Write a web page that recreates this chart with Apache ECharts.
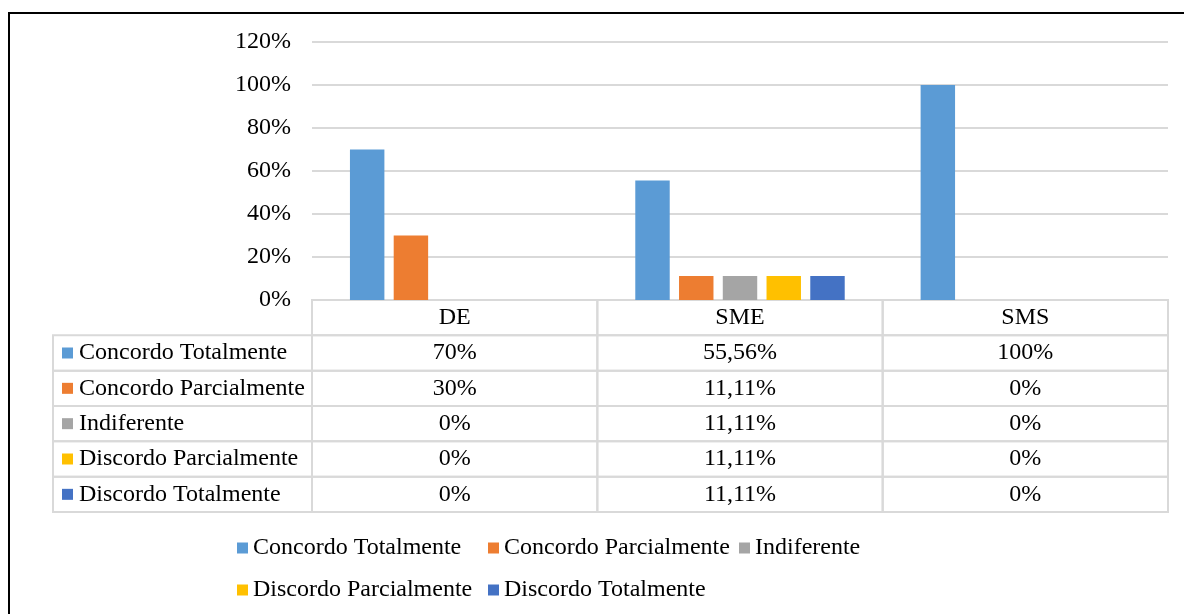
<!DOCTYPE html>
<html><head><meta charset="utf-8">
<script src="https://cdn.jsdelivr.net/npm/echarts@6/dist/echarts.min.js"></script>
<style>html,body{margin:0;padding:0;background:#fff}#c{width:1184px;height:614px}</style>
</head><body><div id="c"></div>
<script>
var categories = ['DE', 'SME', 'SMS'];
var seriesNames = ['Concordo Totalmente', 'Concordo Parcialmente', 'Indiferente', 'Discordo Parcialmente', 'Discordo Totalmente'];
var concordoTotalmente = [70, 55.56, 100];
var concordoParcialmente = [30, 11.11, 0];
var indiferente = [0, 11.11, 0];
var discordoParcialmente = [0, 11.11, 0];
var discordoTotalmente = [0, 11.11, 0];
var yTicks = [0, 20, 40, 60, 80, 100, 120];
var colors = ['#5b9bd5', '#ed7d31', '#a5a5a5', '#ffc000', '#4472c4'];

var seriesValues = [concordoTotalmente, concordoParcialmente, indiferente, discordoParcialmente, discordoTotalmente];
var FONT = '"Liberation Serif", "Times New Roman", serif';
var LABEL_W = 259 / 285.33; // width of the label column, in column units

function fmt(v) {
  return (Math.round(v) === v ? String(v) : v.toFixed(2).replace('.', ',')) + '%';
}

// table cells: value [col, row]; col 0 = label column, 1..3 = categories; row 0 = header
var cells = [];
var tableData = [];
for (var c = 0; c < categories.length; c++) {
  cells.push({ text: categories[c] });
  tableData.push([c + 1, 0]);
}
for (var r = 0; r < seriesNames.length; r++) {
  cells.push({ text: seriesNames[r], marker: colors[r] });
  tableData.push([0, r + 1]);
  for (var c2 = 0; c2 < categories.length; c2++) {
    cells.push({ text: fmt(seriesValues[r][c2]) });
    tableData.push([c2 + 1, r + 1]);
  }
}

var barSeries = seriesNames.map(function (n, i) {
  return {
    name: n, type: 'bar', data: seriesValues[i],
    xAxisIndex: 0, yAxisIndex: 0,
    itemStyle: { color: colors[i] },
    barCategoryGap: '26.6%', barGap: '27%', z: 3
  };
});

var legendText = { fontFamily: FONT, fontSize: 24, color: '#000', width: 235, lineHeight: 24 };

var chart = echarts.init(document.getElementById('c'), null, { renderer: 'canvas' });
chart.setOption({
  animation: false,
  backgroundColor: '#fff',
  textStyle: { fontFamily: FONT },
  graphic: [{
    type: 'rect', silent: true,
    shape: { x: 9, y: 13, width: 1300, height: 700 },
    style: { fill: 'none', stroke: '#000', lineWidth: 2 }
  }],
  grid: [
    { left: 312, right: 16, top: 42, height: 258 },
    { left: 53, right: 16, top: 300, height: 212 }
  ],
  xAxis: [
    { type: 'category', data: categories, gridIndex: 0,
      axisLine: { show: false }, axisTick: { show: false }, axisLabel: { show: false } },
    { type: 'value', gridIndex: 1, min: 0, max: LABEL_W + categories.length, show: false }
  ],
  yAxis: [
    { type: 'value', gridIndex: 0, min: yTicks[0], max: yTicks[yTicks.length - 1], interval: yTicks[1] - yTicks[0],
      axisLine: { show: false }, axisTick: { show: false },
      axisLabel: { formatter: function (v) { return v + '%'; }, fontFamily: FONT, fontSize: 24, color: '#000', margin: 21 },
      splitLine: { lineStyle: { color: '#d9d9d9', width: 2 } } },
    { type: 'value', gridIndex: 1, min: 0, max: seriesNames.length + 1, inverse: true, show: false }
  ],
  legend: [
    { data: seriesNames.slice(0, 3), left: 237, top: 536, padding: 0, itemGap: 0, itemWidth: 11, itemHeight: 11, icon: 'rect',
      textStyle: legendText, selectedMode: false },
    { data: seriesNames.slice(3), left: 237, top: 578, padding: 0, itemGap: 0, itemWidth: 11, itemHeight: 11, icon: 'rect',
      textStyle: legendText, selectedMode: false }
  ],
  series: barSeries.concat([{
    type: 'custom', name: 'table', xAxisIndex: 1, yAxisIndex: 1, silent: true, clip: false, z: 2,
    data: tableData,
    renderItem: function (params, api) {
      var col = api.value(0), row = api.value(1);
      var x0 = col === 0 ? 0 : LABEL_W + col - 1;
      var x1 = col === 0 ? LABEL_W : LABEL_W + col;
      var p0 = api.coord([x0, row]);
      var p1 = api.coord([x1, row + 1]);
      var cell = cells[params.dataIndex];
      var cy = (p0[1] + p1[1]) / 2;
      var children = [{
        type: 'rect',
        shape: { x: p0[0], y: p0[1], width: p1[0] - p0[0], height: p1[1] - p0[1] },
        style: { fill: 'none', stroke: '#d9d9d9', lineWidth: 2 }
      }];
      if (cell.marker) {
        children.push({ type: 'rect', shape: { x: p0[0] + 9, y: cy - 5.5, width: 11, height: 11 }, style: { fill: cell.marker } });
        children.push({ type: 'text', style: { text: cell.text, x: p0[0] + 26, y: cy, align: 'left', verticalAlign: 'middle',
          font: '24px ' + FONT, fill: '#000' } });
      } else {
        children.push({ type: 'text', style: { text: cell.text, x: (p0[0] + p1[0]) / 2, y: cy, align: 'center', verticalAlign: 'middle',
          font: '24px ' + FONT, fill: '#000' } });
      }
      return { type: 'group', children: children };
    }
  }])
});
</script></body></html>
